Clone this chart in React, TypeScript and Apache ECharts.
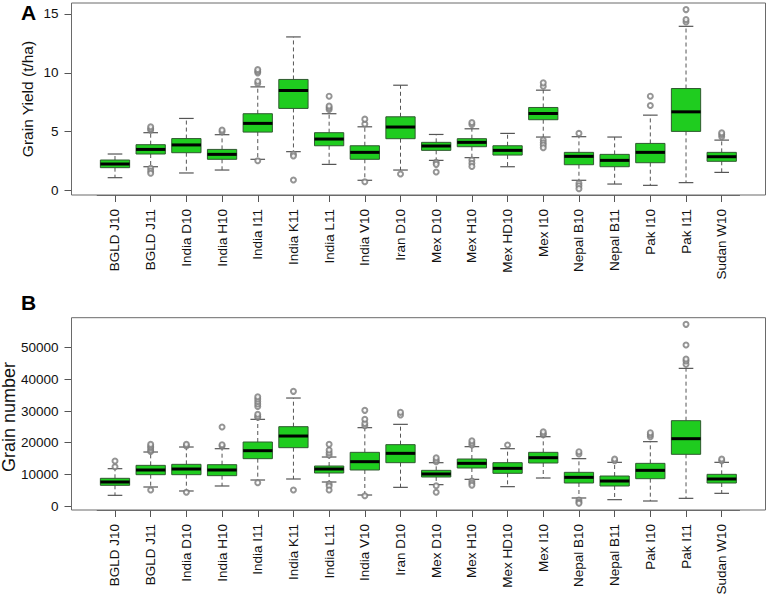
import React, { useEffect, useRef } from "react";
import * as echarts from "echarts";

const categories = [
  "BGLD J10", "BGLD J11", "India D10", "India H10", "India I11", "India K11",
  "India L11", "India V10", "Iran D10", "Mex D10", "Mex H10", "Mex HD10",
  "Mex I10", "Nepal B10", "Nepal B11", "Pak I10", "Pak I11", "Sudan W10",
];

// [lower whisker, Q1, median, Q3, upper whisker]
const yieldStats = [
  [1.10, 1.95, 2.26, 2.60, 3.11],
  [2.03, 3.11, 3.50, 3.90, 4.92],
  [1.50, 3.22, 3.88, 4.42, 6.13],
  [1.75, 2.66, 3.08, 3.50, 4.75],
  [2.66, 4.97, 5.71, 6.53, 8.81],
  [3.31, 6.98, 8.50, 9.44, 13.05],
  [2.23, 3.81, 4.38, 4.92, 6.53],
  [0.88, 2.66, 3.25, 3.81, 5.42],
  [1.75, 4.41, 5.40, 6.27, 8.95],
  [2.57, 3.42, 3.79, 4.10, 4.77],
  [2.80, 3.73, 4.10, 4.41, 5.25],
  [2.03, 3.02, 3.42, 3.81, 4.86],
  [4.55, 6.02, 6.55, 7.06, 8.53],
  [0.88, 2.20, 2.91, 3.25, 4.58],
  [0.56, 2.03, 2.57, 3.08, 4.55],
  [0.45, 2.37, 3.25, 4.01, 6.41],
  [0.68, 5.03, 6.69, 8.67, 13.95],
  [1.55, 2.49, 2.88, 3.25, 4.29],
];
const yieldOutliers = [
  [],
  [5.14, 5.25, 5.42, 1.90, 1.67, 1.47],
  [],
  [5.0, 5.15],
  [9.10, 9.29, 10.0, 10.14, 10.28, 2.54],
  [3.11, 2.94, 0.90],
  [6.89, 7.03, 7.18, 8.02],
  [5.65, 6.07, 0.76],
  [1.41],
  [2.40, 2.23, 1.58],
  [5.62, 5.79, 2.60, 2.32, 2.06],
  [],
  [8.87, 9.15, 4.29, 4.07, 3.87, 3.64],
  [4.86, 0.62, 0.42, 0.17],
  [],
  [7.23, 8.02],
  [14.32, 14.52, 15.37],
  [4.58, 4.77, 4.92],
];

const grainStats = [
  [3370, 6530, 7580, 8740, 11790],
  [6000, 9890, 11370, 12840, 17050],
  [4740, 9890, 11680, 13160, 18630],
  [6320, 9580, 11370, 13050, 18100],
  [8210, 14950, 17470, 20210, 27370],
  [8530, 18420, 22100, 25050, 34100],
  [7580, 10420, 11680, 12630, 15470],
  [3470, 11370, 14000, 16950, 24740],
  [5890, 13680, 16630, 19370, 25790],
  [6740, 9160, 10110, 11260, 13680],
  [8420, 12000, 13470, 14840, 18740],
  [6110, 10320, 11890, 13680, 18100],
  [8840, 13580, 15260, 16950, 21890],
  [2530, 7260, 9050, 10630, 14950],
  [2000, 6320, 7890, 9470, 13790],
  [1580, 8630, 11260, 13470, 20320],
  [2420, 16320, 21260, 26950, 43470],
  [4000, 7260, 8530, 10000, 13790],
];
const grainOutliers = [
  [12400, 14200],
  [17200, 17700, 18400, 18900, 19470, 5050],
  [18950, 19470, 4320],
  [18950, 19370, 24950],
  [28000, 28300, 29000, 31400, 32200, 33000, 33800, 34500, 7370],
  [36210, 5050],
  [16100, 16800, 17700, 19470, 6950, 6320, 5050],
  [25370, 26100, 27370, 30210, 3260],
  [28740, 29580],
  [14000, 14530, 15260, 6420, 4320],
  [19260, 19900, 20630, 7890, 7160, 6530],
  [19260],
  [22500, 22840, 23470],
  [16420, 17160, 1890, 1260, 840],
  [14320, 14840],
  [21890, 22530, 23160],
  [44740, 45790, 46420, 50840, 57370],
  [14320, 14840],
];

const yieldTicks = [0, 5, 10, 15];
const grainTicks = [0, 10000, 20000, 30000, 40000, 50000];

const FONT = "Liberation Sans, Arial, sans-serif";
const BOX_FILL = "#1fcc1f";
const BOX_BORDER = "#2f5a2f";
const LINE_GRAY = "#555555";
const FRAME = "#6a6a6a";

function boxRender(params: any, api: any) {
  const i = api.value(0);
  const vals = [1, 2, 3, 4, 5].map((k) => api.value(k));
  const p = vals.map((v) => api.coord([i, v]));
  const cx = p[0][0];
  const bw = api.size([1, 0])[0] * 0.82;
  const h = bw / 2;
  const c = bw / 4;
  const dash = { stroke: LINE_GRAY, lineWidth: 1, lineDash: [4, 3] };
  const solid = { stroke: LINE_GRAY, lineWidth: 1.2 };
  return {
    type: "group",
    children: [
      { type: "line", shape: { x1: cx, y1: p[3][1], x2: cx, y2: p[4][1] }, style: dash },
      { type: "line", shape: { x1: cx, y1: p[1][1], x2: cx, y2: p[0][1] }, style: dash },
      { type: "line", shape: { x1: cx - c, y1: p[4][1], x2: cx + c, y2: p[4][1] }, style: solid },
      { type: "line", shape: { x1: cx - c, y1: p[0][1], x2: cx + c, y2: p[0][1] }, style: solid },
      {
        type: "rect",
        shape: { x: cx - h, y: p[3][1], width: bw, height: p[1][1] - p[3][1] },
        style: { fill: BOX_FILL, stroke: BOX_BORDER, lineWidth: 1 },
      },
      { type: "line", shape: { x1: cx - h, y1: p[2][1], x2: cx + h, y2: p[2][1] }, style: { stroke: "#000", lineWidth: 3 } },
    ],
  };
}

const FRAME_LEFT = 71.5;
const FRAME_W = 694;
const DATA_LEFT = 97.15;
const DATA_W = 642.4;
const TOP1 = 3;
const H1 = 192;
const TOP2 = 317.7;
const H2 = 192.3;

function xAxisFor(gridIndex: number) {
  return {
    type: "category",
    gridIndex,
    data: categories,
    boundaryGap: true,
    axisLine: { show: true, onZero: false, lineStyle: { color: FRAME, width: 1 } },
    axisTick: { show: true, alignWithLabel: true, length: 7, lineStyle: { color: LINE_GRAY } },
    axisLabel: { rotate: 90, margin: 14, fontSize: 13.5, color: "#111", fontFamily: FONT, interval: 0 },
  };
}

function yAxisFor(gridIndex: number, min: number, max: number, ticks: number[]) {
  return {
    type: "value",
    gridIndex,
    min,
    max,
    position: "left",
    offset: DATA_LEFT - FRAME_LEFT,
    splitLine: { show: false },
    axisLine: { show: false },
    axisTick: { show: true, length: 7, customValues: ticks, lineStyle: { color: LINE_GRAY } },
    axisLabel: {
      margin: 13,
      fontSize: 13.5,
      color: "#111",
      fontFamily: FONT,
      customValues: ticks,
      formatter: (v: number) => String(Math.round(v)),
    },
  };
}

function boxData(stats: number[][]) {
  return stats.map((s, i) => [i, ...s]);
}
function outlierData(outs: number[][]) {
  const res: number[][] = [];
  outs.forEach((arr, i) => arr.forEach((v) => res.push([i, v])));
  return res;
}

const outlierStyle = { color: "#7a7a7a", borderWidth: 0.9 };

export default function App() {
  const ref = useRef<HTMLDivElement>(null);
  useEffect(() => {
    if (!ref.current) return;
    const chart = echarts.init(ref.current, undefined, { renderer: "svg" });
    const option: any = {
      animation: false,
      backgroundColor: "#ffffff",
      grid: [
        { left: DATA_LEFT, top: TOP1, width: DATA_W, height: H1 },
        { left: DATA_LEFT, top: TOP2, width: DATA_W, height: H2 },
      ],
      xAxis: [xAxisFor(0), xAxisFor(1)],
      yAxis: [
        yAxisFor(0, -0.37, 15.93, yieldTicks),
        yAxisFor(1, -1263, 59470, grainTicks),
      ],
      series: [
        {
          type: "custom",
          xAxisIndex: 0,
          yAxisIndex: 0,
          renderItem: boxRender,
          encode: { x: 0, y: [1, 2, 3, 4, 5] },
          data: boxData(yieldStats),
          z: 2,
        },
        {
          type: "scatter",
          xAxisIndex: 0,
          yAxisIndex: 0,
          symbol: "emptyCircle",
          symbolSize: 5,
          itemStyle: outlierStyle,
          data: outlierData(yieldOutliers),
          z: 3,
        },
        {
          type: "custom",
          xAxisIndex: 1,
          yAxisIndex: 1,
          renderItem: boxRender,
          encode: { x: 0, y: [1, 2, 3, 4, 5] },
          data: boxData(grainStats),
          z: 2,
        },
        {
          type: "scatter",
          xAxisIndex: 1,
          yAxisIndex: 1,
          symbol: "emptyCircle",
          symbolSize: 5,
          itemStyle: outlierStyle,
          data: outlierData(grainOutliers),
          z: 3,
        },
      ],
      graphic: [
        {
          type: "rect",
          shape: { x: FRAME_LEFT, y: TOP1, width: FRAME_W, height: H1 },
          style: { fill: "none", stroke: FRAME, lineWidth: 1 },
          z: 10,
        },
        {
          type: "rect",
          shape: { x: FRAME_LEFT, y: TOP2, width: FRAME_W, height: H2 },
          style: { fill: "none", stroke: FRAME, lineWidth: 1 },
          z: 10,
        },
        {
          type: "text",
          x: 21,
          y: 2,
          style: { text: "A", fontSize: 21, fontWeight: "bold", fontFamily: FONT, fill: "#000" },
        },
        {
          type: "text",
          x: 21,
          y: 292,
          style: { text: "B", fontSize: 21, fontWeight: "bold", fontFamily: FONT, fill: "#000" },
        },
        {
          type: "text",
          x: 27,
          y: 99,
          rotation: Math.PI / 2,
          style: {
            text: "Grain Yield (t/ha)",
            fontSize: 15.5,
            fontFamily: FONT,
            fill: "#111",
            textAlign: "center",
            textVerticalAlign: "middle",
          },
        },
        {
          type: "text",
          x: 9,
          y: 417,
          rotation: Math.PI / 2,
          style: {
            text: "Grain number",
            fontSize: 18,
            fontFamily: FONT,
            fill: "#111",
            textAlign: "center",
            textVerticalAlign: "middle",
          },
        },
      ],
    };
    chart.setOption(option);
    return () => chart.dispose();
  }, []);
  return (
    <div
      ref={ref}
      style={{ position: "fixed", left: 0, top: 0, width: 768, height: 604, background: "#fff" }}
    />
  );
}
